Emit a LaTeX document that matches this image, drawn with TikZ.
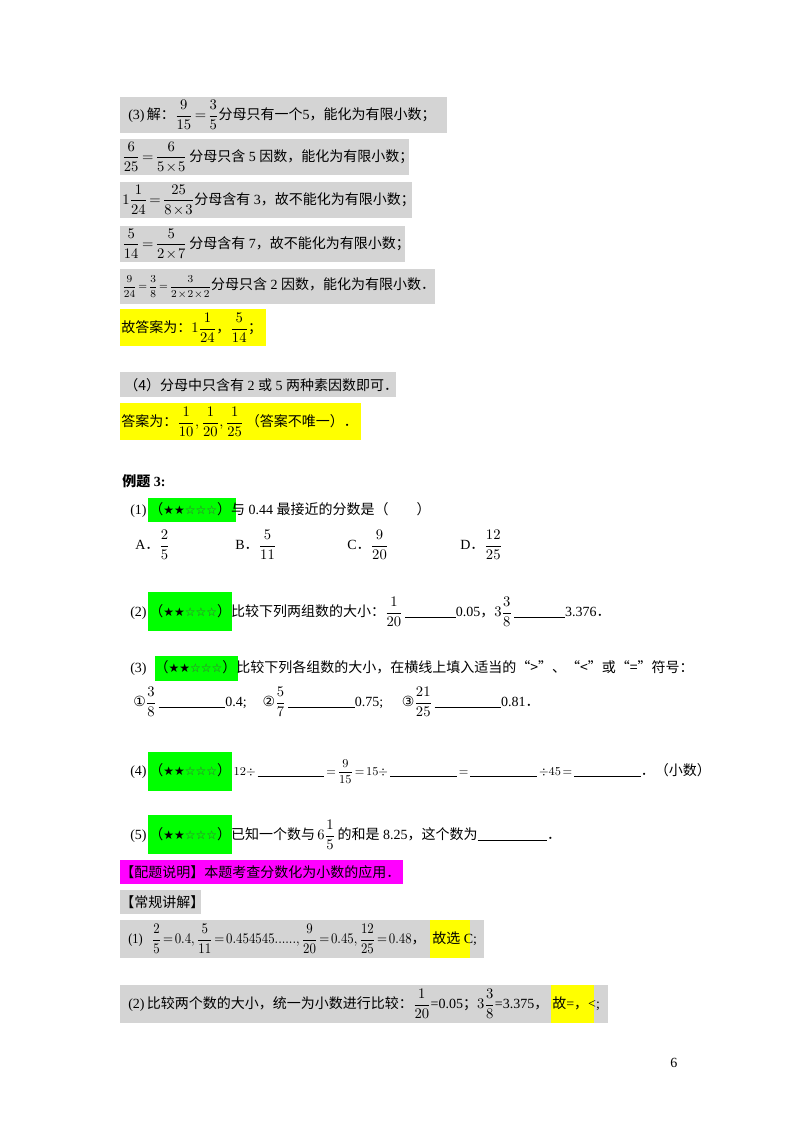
\documentclass[tikz,border=0pt]{standalone}
\usepackage{amsmath}
\usepackage{graphicx}
\usepackage{fontspec}
\setmainfont{Liberation Serif}
\newfontfamily\cjk{Noto Sans CJK SC}
\newfontfamily\dv{DejaVu Sans}
\definecolor{mag}{RGB}{255,0,255}
\definecolor{grn}{RGB}{0,255,0}
\definecolor{yel}{RGB}{255,255,0}
\newcommand{\zh}[1]{{\cjk #1}}
\newcommand{\stars}{{\cjk （}{\dv\small ★★\textcolor{black!70}{☆☆☆}}{\cjk ）}}
\newcommand{\blank}[1]{\rule[-1pt]{#1}{0.4pt}}
\medmuskip=1.5mu \thickmuskip=2.5mu
\begin{document}
\begin{tikzpicture}[x=0.75pt,y=-0.75pt,
  gbox/.style={fill=black!17,draw=none},
  ybox/.style={fill=yel,draw=none},
  grbox/.style={fill=grn,draw=none},
  mbox/.style={fill=mag,draw=none},
  txt/.style={anchor=west,inner sep=0pt,font=\fontsize{10.5pt}{12pt}\selectfont}]
\useasboundingbox[fill=white] (0,0) rectangle (800,1132);
% boxes
\fill[gbox] (120,97) rectangle (447,133);
\fill[gbox] (120,139) rectangle (409,175);
\fill[gbox] (120,182) rectangle (412,218);
\fill[gbox] (120,226) rectangle (405,262);
\fill[gbox] (120,269) rectangle (435,304);
\fill[ybox] (120,309) rectangle (266,346);
\fill[gbox] (120,372) rectangle (396,397);
\fill[ybox] (120,403) rectangle (361,440);
\fill[grbox] (148,498) rectangle (236,522);
\fill[grbox] (148,592) rectangle (232,631);
\fill[grbox] (155,656) rectangle (238,681);
\fill[grbox] (148,752) rectangle (232,791);
\fill[grbox] (148,815) rectangle (232,854);
\fill[mbox] (120,860) rectangle (403,884);
\fill[gbox] (120,890) rectangle (201,914);
\fill[gbox] (120,920) rectangle (484,958);
\fill[ybox] (430,920) rectangle (470,958);
\fill[gbox] (120,985) rectangle (608,1023);
\fill[ybox] (551,985) rectangle (594,1023);
% texts
\node[txt] (t1) at (128,115) {(3)\,\zh{解：}$\dfrac{9}{15}=\dfrac{3}{5}$\zh{分母只有一个}5\zh{，能化为有限小数；}};
\node[txt] (t2) at (122,157) {$\dfrac{6}{25}=\dfrac{6}{5\times5}$\,\zh{分母只含} 5 \zh{因数，能化为有限小数；}};
\node[txt] (t3) at (122,200) {$1\dfrac{1}{24}=\dfrac{25}{8\times3}$\zh{分母含有} 3\zh{，故不能化为有限小数；}};
\node[txt] (t4) at (122,244) {$\dfrac{5}{14}=\dfrac{5}{2\times7}$\,\zh{分母含有} 7\zh{，故不能化为有限小数；}};
\node[txt] (t5) at (122,287) {{\footnotesize$\dfrac{9}{24}=\dfrac{3}{8}=\dfrac{3}{2\times2\times2}$}\zh{分母只含} 2 \zh{因数，能化为有限小数．}};
\node[txt] (t6) at (121,328) {\zh{故答案为：}$1\dfrac{1}{24}$\zh{，}$\dfrac{5}{14}$\zh{；}};
\node[txt] (t7) at (124,385) {\zh{（4）分母中只含有} 2 \zh{或} 5 \zh{两种素因数即可．}};
\node[txt] (t8) at (121,422) {\zh{答案为：}$\dfrac{1}{10},\dfrac{1}{20},\dfrac{1}{25}$\,\zh{（答案不唯一）．}};
\node[txt] (t9) at (122,481) {\zh{\bfseries 例题} \textbf{3:}};
\node[txt] (q1) at (130,510) {(1)\hspace{2pt}\stars\zh{与} 0.44 \zh{最接近的分数是（\hspace{2em}）}};
\node[txt] (a1) at (135,545) {A\zh{．}$\dfrac{2}{5}$};
\node[txt] (b1) at (235,545) {B\zh{．}$\dfrac{5}{11}$};
\node[txt] (c1) at (347,545) {C\zh{．}$\dfrac{9}{20}$};
\node[txt] (d1) at (460,545) {D\zh{．}$\dfrac{12}{25}$};
\node[txt] (q2) at (130,612) {(2)\hspace{2pt}\stars\zh{比较下列两组数的大小：}$\dfrac{1}{20}$\,\blank{38pt}0.05\zh{，}$3\dfrac{3}{8}$\,\blank{38pt}3.376\zh{．}};
\node[txt] (q3) at (130,668) {(3)\hspace{6pt}\stars\zh{比较下列各组数的大小，在横线上填入适当的“>”、“<”或“=”符号：}};
\node[txt] (q3b) at (133,702) {{\dv ①}$\dfrac{3}{8}$\,\blank{50pt}0.4;\hspace{12pt}{\dv ②}$\dfrac{5}{7}$\,\blank{50pt}0.75;\hspace{14pt}{\dv ③}$\dfrac{21}{25}$\,\blank{50pt}0.81\zh{．}};
\node[txt] (q4) at (130,772) {(4)\hspace{2pt}\stars\hspace{2pt}{\small $12\div$\,\blank{50pt}\,$=\dfrac{9}{15}=15\div$\,\blank{50pt}\,$=$\,\blank{50pt}\,$\div45=$\,\blank{50pt}}\zh{．（小数）}};
\node[txt] (q5) at (130,835) {(5)\hspace{2pt}\stars\zh{已知一个数与}$\,6\dfrac{1}{5}\,$\zh{的和是} 8.25\zh{，这个数为}\blank{52pt}\zh{．}};
\node[txt] (n1) at (120,872) {\zh{【配题说明】本题考查分数化为小数的应用．}};
\node[txt] (n2) at (120,902) {\zh{【常规讲解】}};
\node[txt] (s1) at (128,939) {\scalebox{0.88}[1]{(1)\hspace{8pt}$\dfrac{2}{5}=0.4,\dfrac{5}{11}=0.454545......,\dfrac{9}{20}=0.45,\dfrac{12}{25}=0.48$}\zh{，}};
\node[txt] (s1b) at (432,939) {\zh{故选} C;};
\node[txt] (s2) at (128,1004) {(2)\,\zh{比较两个数的大小，统一为小数进行比较：}$\dfrac{1}{20}$=0.05\zh{；}$3\dfrac{3}{8}$=3.375\zh{，}};
\node[txt] (s2b) at (552,1004) {\zh{故}=\zh{，}<;};
\node[txt] (pg) at (670,1063) {6};
\end{tikzpicture}
\end{document}
